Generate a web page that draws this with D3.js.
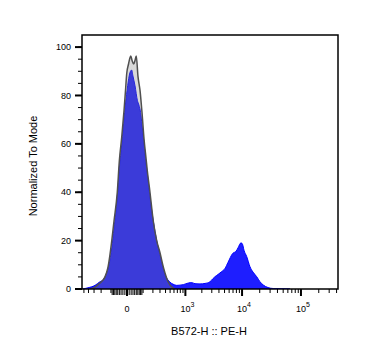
<!DOCTYPE html>
<html>
<head>
<meta charset="utf-8">
<script src="https://cdn.jsdelivr.net/npm/d3@7"></script>
<style>
  body { margin: 0; background: #fff; }
  text { font-family: "Liberation Sans", Arial, sans-serif; fill: #000; }
</style>
</head>
<body>
<svg id="histogram" width="382" height="356"></svg>
<script>
// stained sample: PE-H channel value / % of mode
const stainedX = [-522, -410, -284, -214, -178, -145, -117, -93, -76, -53, -40, -26, -19, -9, 0, 6,
  14, 23, 30, 42, 57, 68, 80, 91, 108, 126, 138, 166, 205, 250, 300, 352, 389, 441, 498, 574,
  680, 789, 913, 1072, 1220, 1328, 1506, 1854, 2277, 2791, 3151, 3416, 3852, 4465, 5093, 5740,
  6911, 7876, 8525, 9595, 10180, 10795, 12005, 13660, 15365, 17770, 20215, 22995, 27645, 34000, 65250];
const stainedY = [0, 0.5, 1.5, 3, 3.7, 6, 10, 17, 25, 38, 50, 60, 66, 75, 82, 86,
  89.5, 90.5, 88, 84, 78, 76, 73, 68, 60, 52, 48, 38, 28, 20, 14, 9, 6, 4, 2.8, 2,
  1.5, 1.6, 1.8, 2.3, 2.6, 2.6, 2.2, 2.1, 2.3, 3, 4.3, 5.1, 6, 7.2, 8.5, 11,
  14.7, 15.6, 17, 19.1, 18.5, 16, 13.4, 9.2, 7, 5.1, 3, 1.65, 0.6, 0.2, 0];

// unstained control
const controlX = [-370, -284, -214, -178, -156, -126, -93, -76, -53, -40, -26, -14, -7, -1.4,
  7, 18, 25, 34, 42, 50, 61, 76, 91, 108, 126, 138, 166, 205, 250, 300, 352, 389, 441, 498, 560, 629];
const controlY = [0, 0.8, 2.5, 3.7, 5, 9, 20, 28, 40, 53, 63, 74, 82, 89,
  93, 96.3, 94.5, 93, 94.5, 96.3, 88, 82, 73, 62, 54, 49, 40, 28, 20, 15, 9.5, 6.6, 3.5, 1.6, 0.6, 0];

const yTicks = [0, 20, 40, 60, 80, 100];
const xMajorTicks = [0, 1e3, 1e4, 1e5];
const xTickExponents = [null, 3, 4, 5];

var svg = d3.select("#histogram");
var plotLeft = 82, plotRight = 338, plotTop = 35, plotBottom = 289;

var xScale = d3.scaleSymlog()
  .constant(115)
  .domain([-548, 423000])
  .range([plotLeft, plotRight]);

var yScale = d3.scaleLinear()
  .domain([0, 105])
  .range([plotBottom, plotTop]);

/**
 * Zips the x and y lists into points.
 */
function toPoints(xs, ys) {
  return xs.map(function(x, i) {
    return { x: x, y: ys[i] };
  });
}

/**
 * Builds the minor tick values of the biex axis.
 */
function minorTicks() {
  var ticks = [];
  for (var k = 1; k <= 5; k++) {
    for (var m = 1; m <= 9; m++) {
      var v = m * Math.pow(10, k);
      if (m != 1 || k < 3) {
        if (v <= xScale.domain()[1]) ticks.push(v);
        if (-v >= xScale.domain()[0]) ticks.push(-v);
      }
    }
  }
  return ticks;
}

svg.append("defs").append("clipPath")
  .attr("id", "plot-clip")
  .append("rect")
  .attr("x", plotLeft)
  .attr("y", plotTop)
  .attr("width", plotRight - plotLeft)
  .attr("height", plotBottom - plotTop);

var area = d3.area()
  .curve(d3.curveMonotoneX)
  .x(function(d) { return xScale(d.x); })
  .y0(yScale(0))
  .y1(function(d) { return yScale(d.y); });

var line = d3.line()
  .curve(d3.curveMonotoneX)
  .x(function(d) { return xScale(d.x); })
  .y(function(d) { return yScale(d.y); });

var plot = svg.append("g").attr("clip-path", "url(#plot-clip)");
var stained = toPoints(stainedX, stainedY);
var control = toPoints(controlX, controlY);

plot.append("path")
  .datum(stained)
  .attr("fill", "#1e1eff")
  .attr("stroke", "#0000ff")
  .attr("stroke-width", 1)
  .attr("d", area);

plot.append("path")
  .datum(control)
  .attr("fill", "#808080")
  .attr("fill-opacity", 0.3)
  .attr("d", area);

plot.append("path")
  .datum(control)
  .attr("fill", "none")
  .attr("stroke", "#505050")
  .attr("stroke-width", 1.5)
  .attr("d", line);

// frame
svg.append("rect")
  .attr("x", plotLeft)
  .attr("y", plotTop)
  .attr("width", plotRight - plotLeft)
  .attr("height", plotBottom - plotTop)
  .attr("fill", "none")
  .attr("stroke", "#000")
  .attr("stroke-width", 1.5);

// y axis
svg.selectAll(".y-minor")
  .data(d3.range(0, 105, 5))
  .enter().append("line")
  .attr("x1", plotLeft - 4)
  .attr("x2", plotLeft)
  .attr("y1", function(d) { return yScale(d); })
  .attr("y2", function(d) { return yScale(d); })
  .attr("stroke", "#000")
  .attr("stroke-width", 1);

svg.selectAll(".y-major")
  .data(yTicks)
  .enter().append("line")
  .attr("x1", plotLeft - 7)
  .attr("x2", plotLeft)
  .attr("y1", function(d) { return yScale(d); })
  .attr("y2", function(d) { return yScale(d); })
  .attr("stroke", "#000")
  .attr("stroke-width", 2);

svg.selectAll(".y-label")
  .data(yTicks)
  .enter().append("text")
  .attr("x", plotLeft - 11)
  .attr("y", function(d) { return yScale(d); })
  .attr("dy", "0.35em")
  .style("text-anchor", "end")
  .style("font-size", "9px")
  .text(function(d) { return d; });

// x axis
svg.selectAll(".x-minor")
  .data(minorTicks())
  .enter().append("line")
  .attr("x1", function(d) { return xScale(d); })
  .attr("x2", function(d) { return xScale(d); })
  .attr("y1", plotBottom)
  .attr("y2", function(d) { return Math.abs(d) < 100 ? plotBottom + 6 : plotBottom + 4; })
  .attr("stroke", "#000")
  .attr("stroke-width", 1);

svg.selectAll(".x-major")
  .data(xMajorTicks)
  .enter().append("line")
  .attr("x1", function(d) { return xScale(d); })
  .attr("x2", function(d) { return xScale(d); })
  .attr("y1", plotBottom)
  .attr("y2", plotBottom + 7)
  .attr("stroke", "#000")
  .attr("stroke-width", 2);

// "10" sits centred on the tick, the exponent hangs to the right
var xLabels = svg.selectAll(".x-label")
  .data(xMajorTicks)
  .enter().append("text")
  .attr("x", function(d, i) {
    return xTickExponents[i] == null ? xScale(d) : xScale(d) - 5;
  })
  .attr("y", plotBottom + 23)
  .style("text-anchor", function(d, i) {
    return xTickExponents[i] == null ? "middle" : "start";
  })
  .style("font-size", "9px");

xLabels.each(function(d, i) {
  var t = d3.select(this);
  if (xTickExponents[i] == null) {
    t.text("0");
  } else {
    t.append("tspan").text("10");
    t.append("tspan")
      .attr("dy", -5)
      .style("font-size", "7px")
      .text(xTickExponents[i]);
  }
});

svg.append("text")
  .attr("x", 209)
  .attr("y", 335)
  .style("text-anchor", "middle")
  .style("font-size", "11px")
  .text("B572-H :: PE-H");

svg.append("text")
  .attr("transform", "translate(37,166) rotate(-90)")
  .style("text-anchor", "middle")
  .style("font-size", "11px")
  .text("Normalized To Mode");
</script>
</body>
</html>
